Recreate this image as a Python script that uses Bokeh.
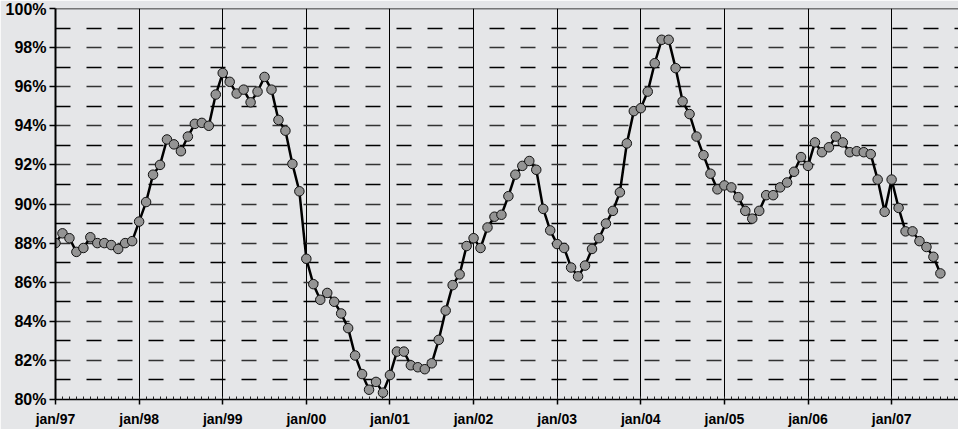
from bokeh.plotting import figure
from bokeh.models import Range1d, FixedTicker, Grid, Span, ColumnDataSource, PrintfTickFormatter
from bokeh.embed import file_html
from bokeh.resources import INLINE

# monthly values, jan/97 .. aug/07 (%)
values = [
    88.0, 88.5, 88.25, 87.55, 87.75, 88.3, 88.0, 88.0, 87.9, 87.7, 88.0, 88.1,   # 1997
    89.1, 90.1, 91.5, 92.0, 93.3, 93.05, 92.7, 93.45, 94.1, 94.15, 94.0, 95.6,    # 1998
    96.7, 96.25, 95.65, 95.85, 95.2, 95.75, 96.5, 95.85, 94.3, 93.75, 92.05, 90.65, # 1999
    87.2, 85.9, 85.1, 85.45, 85.0, 84.4, 83.65, 82.25, 81.3, 80.5, 80.9, 80.35,   # 2000
    81.25, 82.45, 82.45, 81.75, 81.65, 81.55, 81.85, 83.05, 84.55, 85.85, 86.4, 87.85, # 2001
    88.25, 87.75, 88.8, 89.35, 89.45, 90.4, 91.5, 91.95, 92.2, 91.75, 89.75, 88.65, # 2002
    87.95, 87.75, 86.75, 86.3, 86.85, 87.7, 88.25, 89.0, 89.65, 90.6, 93.1, 94.75, # 2003
    94.9, 95.75, 97.2, 98.4, 98.4, 96.95, 95.25, 94.6, 93.45, 92.5, 91.55, 90.75, # 2004
    90.95, 90.85, 90.35, 89.65, 89.25, 89.65, 90.45, 90.45, 90.85, 91.1, 91.65, 92.4, # 2005
    91.95, 93.15, 92.65, 92.9, 93.45, 93.15, 92.65, 92.7, 92.65, 92.55, 91.25, 89.6, # 2006
    91.25, 89.8, 88.6, 88.6, 88.1, 87.8, 87.3, 86.45,                              # 2007
]
year_labels = ["jan/97", "jan/98", "jan/99", "jan/00", "jan/01", "jan/02",
               "jan/03", "jan/04", "jan/05", "jan/06", "jan/07"]
y_major = [80, 82, 84, 86, 88, 90, 92, 94, 96, 98, 100]
y_minor = [81, 83, 85, 87, 89, 91, 93, 95, 97, 99]

months = list(range(len(values)))
year_pos = [12 * i for i in range(len(year_labels))]
src = ColumnDataSource(data=dict(m=months, v=values))

BG = "#e5e6e8"
p = figure(width=958, height=429, output_backend="svg", toolbar_location=None,
           x_range=Range1d(0, 129.6), y_range=Range1d(80, 100),
           background_fill_color=BG, border_fill_color=BG,
           min_border_left=55, min_border_right=0, min_border_top=8,
           min_border_bottom=28)
p.outline_line_color = None

# vertical year lines
p.xgrid.ticker = FixedTicker(ticks=year_pos[1:])
p.xgrid.grid_line_color = "black"
p.xgrid.grid_line_width = 1

# horizontal dashed lines
p.ygrid.ticker = FixedTicker(ticks=y_major[1:-1])
p.ygrid.grid_line_color = "#333333"
p.ygrid.grid_line_width = 1.6
p.ygrid.grid_line_dash = "15 16"
p.add_layout(Grid(dimension=1, ticker=FixedTicker(ticks=y_minor),
                  grid_line_color="black", grid_line_width=1.4,
                  grid_line_dash="15 16"))
p.add_layout(Span(location=100, dimension="width", line_color="black", line_width=1.5))

# x axis
xa = p.xaxis[0]
xa.ticker = FixedTicker(ticks=year_pos, minor_ticks=months + [128, 129])
xa.major_label_overrides = {pos: lab for pos, lab in zip(year_pos, year_labels)}
xa.axis_line_color = "black"
xa.axis_line_width = 1.5
xa.major_tick_in = 0
xa.major_tick_out = 5
xa.major_tick_line_width = 1.5
xa.minor_tick_in = 3
xa.minor_tick_out = 0
xa.minor_tick_line_color = "#222222"
xa.major_label_text_font = "Liberation Sans"
xa.major_label_text_font_style = "bold"
xa.major_label_text_font_size = "14px"
xa.major_label_text_color = "black"
xa.major_label_standoff = 6

# y axis
ya = p.yaxis[0]
ya.ticker = FixedTicker(ticks=y_major, minor_ticks=[])
ya.formatter = PrintfTickFormatter(format="%d%%")
ya.axis_line_color = "black"
ya.axis_line_width = 2
ya.major_tick_in = 0
ya.major_tick_out = 6
ya.major_tick_line_width = 1.5
ya.major_label_text_font = "Liberation Sans"
ya.major_label_text_font_style = "bold"
ya.major_label_text_font_size = "16px"
ya.major_label_text_color = "black"
ya.major_label_standoff = 3

p.line("m", "v", source=src, line_color="black", line_width=2.5)
p.scatter("m", "v", source=src, size=9.5, fill_color="#949494",
          line_color="#111111", line_width=1)

open("out.html", "w").write(file_html(p, INLINE))
